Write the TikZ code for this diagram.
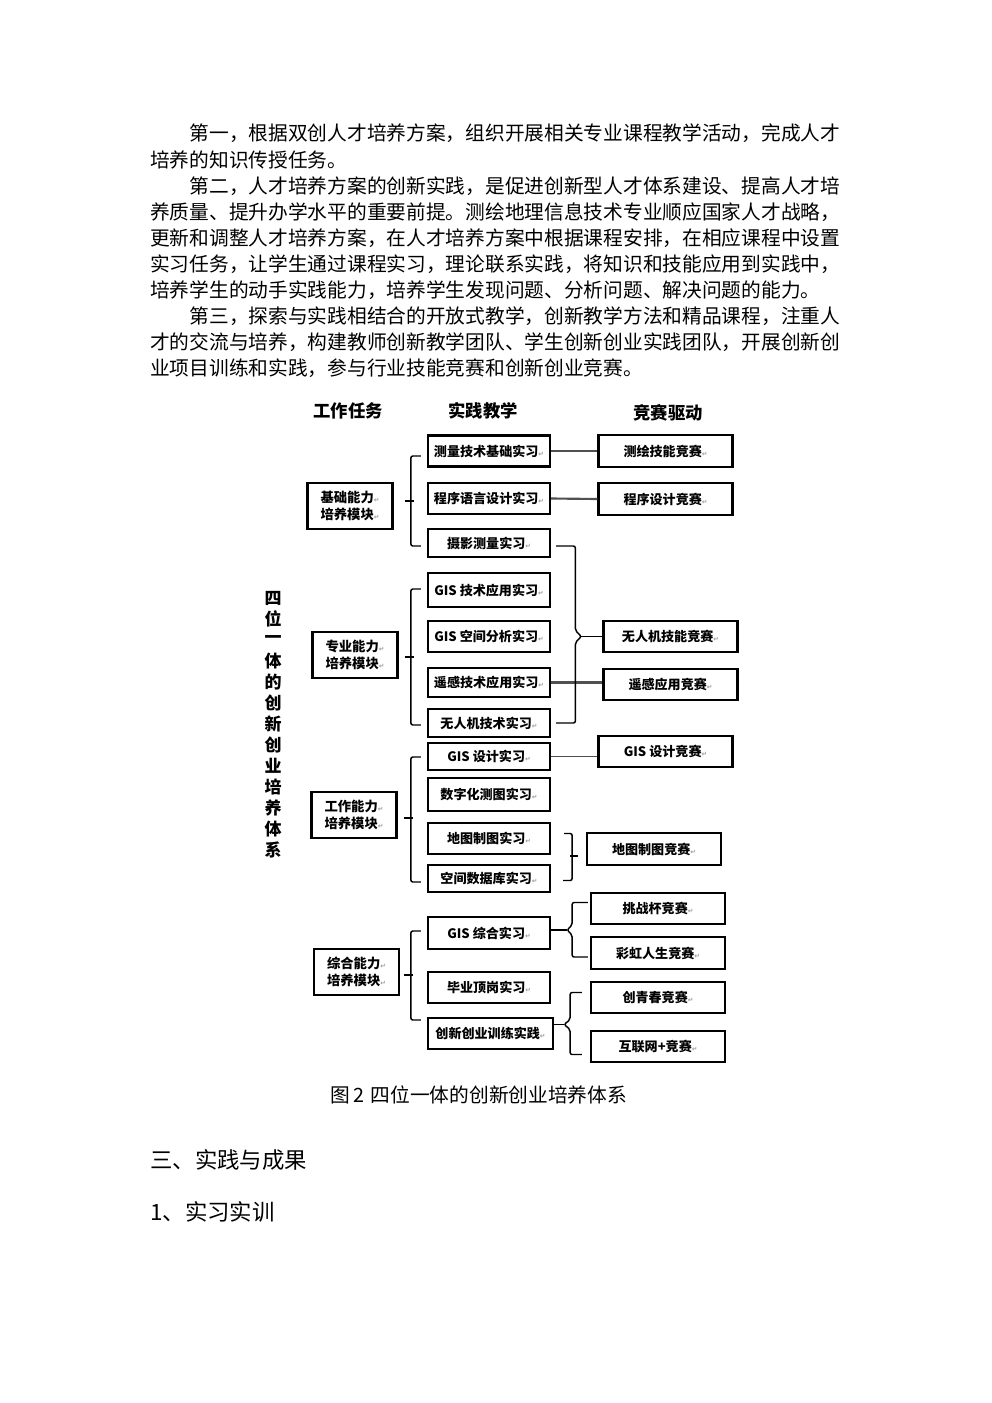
\documentclass[tikz,border=0pt]{standalone}
\usepackage{fontspec}
\setmainfont{Noto Sans CJK SC}
\newfontfamily\symfont{DejaVu Sans}
\usetikzlibrary{calc}
\definecolor{cline}{HTML}{505050}
\definecolor{cmark}{HTML}{9A9A9A}
\tikzset{
  box/.style={draw=black, line width=1.7pt, inner sep=0pt, align=center, font=\fontsize{9.8}{12.5}\selectfont\bfseries},
  link/.style={draw=cline, line width=1.6pt},
  brk/.style={draw=black, line width=1.1pt, rounded corners=1.5pt},
  body/.style={anchor=west, inner sep=0pt, font=\fontsize{14.786}{18}\selectfont},
}
\newcommand{\retmark}{{\symfont\fontsize{5}{5}\selectfont\textcolor{cmark}{↵}}}

\begin{document}
\begin{tikzpicture}[x=0.75pt, y=-0.75pt,
    prac/.style={box, minimum width=91.5pt, minimum height=23.25pt},
    race/.style={box, minimum width=100.5pt, minimum height=23.5pt},
    modu/.style={box, minimum width=63.75pt, minimum height=34.5pt, font=\fontsize{10}{12.8}\selectfont\bfseries},
    head/.style={font=\fontsize{13}{15}\selectfont\bfseries},
    vtitle/.style={font=\fontsize{12.75}{15}\selectfont\bfseries},
    sect/.style={body, font=\fontsize{16.8}{20}\selectfont},
  ]
  \useasboundingbox (0,0) rectangle (992,1403);

  % text above the figure
  \node[body] (l1)  at (150,133.5) {\hspace*{2em}第一，根据双创人才培养方案，组织开展相关专业课程教学活动，完成人才};
  \node[body] (l2)  at (150,159.6) {培养的知识传授任务。};
  \node[body] (l3)  at (150,185.7) {\hspace*{2em}第二，人才培养方案的创新实践，是促进创新型人才体系建设、提高人才培};
  \node[body] (l4)  at (150,211.8) {养质量、提升办学水平的重要前提。测绘地理信息技术专业顺应国家人才战略，};
  \node[body] (l5)  at (150,237.9) {更新和调整人才培养方案，在人才培养方案中根据课程安排，在相应课程中设置};
  \node[body] (l6)  at (150,264.0) {实习任务，让学生通过课程实习，理论联系实践，将知识和技能应用到实践中，};
  \node[body] (l7)  at (150,290.1) {培养学生的动手实践能力，培养学生发现问题、分析问题、解决问题的能力。};
  \node[body] (l8)  at (150,316.2) {\hspace*{2em}第三，探索与实践相结合的开放式教学，创新教学方法和精品课程，注重人};
  \node[body] (l9)  at (150,342.3) {才的交流与培养，构建教师创新教学团队、学生创新创业实践团队，开展创新创};
  \node[body] (l10) at (150,368.4) {业项目训练和实践，参与行业技能竞赛和创新创业竞赛。};

  % column heads
  \node[head] (htask) at (348,411) {工作任务};
  \node[head] (hprac) at (483,411) {实践教学};
  \node[head] (hrace) at (668,413) {竞赛驱动};

  % vertical title
  \foreach \ch [count=\i from 0] in {四,位,一,体,的,创,新,创,业,培,养,体,系}
    \node[vtitle] (v\i) at (273,598+21*\i) {\ch};

  % modules
  \node[modu] (mbasic) at (350,506)   {基础能力\retmark\\培养模块\retmark};
  \node[modu] (mmajor) at (355,655)   {专业能力\retmark\\培养模块\retmark};
  \node[modu] (mwork)  at (354,815)   {工作能力\retmark\\培养模块\retmark};
  \node[modu] (mall)   at (356.5,972) {综合能力\retmark\\培养模块\retmark};

  % practice teaching
  \node[prac] (survey) at (489,451)   {测量技术基础实习\retmark};
  \node[prac] (prog)   at (489,498.5) {程序语言设计实习\retmark};
  \node[prac, minimum height=21pt] (photo) at (489,543) {摄影测量实习\retmark};
  \node[prac, minimum height=25.5pt] (gisapp) at (489,590) {GIS 技术应用实习\retmark};
  \node[prac] (gisspa) at (489,636.5) {GIS 空间分析实习\retmark};
  \node[prac, minimum height=22pt] (rsapp) at (489,682.5) {遥感技术应用实习\retmark};
  \node[prac, minimum height=21pt] (uavp) at (489,723) {无人机技术实习\retmark};
  \node[prac, minimum height=20.5pt] (gisdes) at (489,756.5) {GIS 设计实习\retmark};
  \node[prac, minimum height=24.75pt] (digmap) at (489,794.5) {数字化测图实习\retmark};
  \node[prac] (carto)  at (489,838.5) {地图制图实习\retmark};
  \node[prac, minimum height=20.5pt] (sdb) at (489,878.5) {空间数据库实习\retmark};
  \node[prac, minimum height=24pt] (giscom) at (489,933) {GIS 综合实习\retmark};
  \node[prac] (intern) at (489,987.5) {毕业顶岗实习\retmark};
  \node[prac, minimum width=93.75pt] (innov) at (490.5,1033.5) {创新创业训练实践\retmark};

  % competitions
  \node[race] (csurvey) at (665.5,451)  {测绘技能竞赛\retmark};
  \node[race] (cprog)   at (665.5,499)  {程序设计竞赛\retmark};
  \node[race] (cuav)    at (670.5,636.5) {无人机技能竞赛\retmark};
  \node[race] (crs)     at (670.5,684.5) {遥感应用竞赛\retmark};
  \node[race] (cgis)    at (665.5,751.5) {GIS 设计竞赛\retmark};
  \node[race] (ccarto)  at (654,849)    {地图制图竞赛\retmark};
  \node[race] (ccup)    at (658,908.5)  {挑战杯竞赛\retmark};
  \node[race] (crain)   at (658,953)    {彩虹人生竞赛\retmark};
  \node[race] (cyouth)  at (658,997.5)  {创青春竞赛\retmark};
  \node[race] (cnet)    at (658,1046.5) {互联网+竞赛\retmark};

  % brackets from modules
  \draw[brk] ($(survey.west)+(-6,5)$) -- ++(-10,0) |- ($(photo.west)+(-6,3)$);
  \draw[brk] ($(mbasic.east)+(11,-5)$) -- ++(9,0);
  \draw[brk] ($(gisapp.west)+(-6,-1)$) -- ++(-10,0) |- ($(uavp.west)+(-6,2)$);
  \draw[brk] ($(mmajor.east)+(6,2)$) -- ++(9,0);
  \draw[brk] ($(gisdes.west)+(-6,0.5)$) -- ++(-10,0) |- ($(sdb.west)+(-6,3.5)$);
  \draw[brk] ($(mwork.east)+(6,3)$) -- ++(9,0);
  \draw[brk] ($(giscom.west)+(-6,-2)$) -- ++(-10,0) |- ($(innov.west)+(-6,-13.5)$);
  \draw[brk] ($(mall.east)+(4,3)$) -- ++(9,0);

  % straight links
  \draw[link] (survey.east) -- (csurvey.west);
  \draw[link] (prog.east) -- (cprog.west);
  \draw[link] (rsapp.east) -- (rsapp.east -| crs.west);
  \draw[link, line width=1.1pt] (gisdes.east) -- (gisdes.east -| cgis.west);

  % braces to competitions
  \draw[brk] ($(photo.east)+(5,3)$) -| ($(cuav.west)+(-27,-6)$) -- ($(cuav.west)+(-21,0)$)
    -- ($(cuav.west)+(-27,6)$) |- ($(uavp.east)+(5,0)$);
  \draw[brk] ($(cuav.west)+(-21,0)$) -- (cuav.west);
  \draw[brk] ($(carto.east)+(13,-5)$) -- ++(8,0) |- ($(sdb.east)+(12,2)$);
  \draw[brk] ($(ccarto.west)+(-16,7)$) -- ++(8,0);
  \draw[brk] ($(ccup.west)+(-2,-6)$) -| ($(giscom.east)+(21,-8)$) -- ($(giscom.east)+(16,-3)$)
    -- ($(giscom.east)+(21,2)$) |- ($(crain.west)+(-2,4)$);
  \draw[brk] ($(giscom.east)+(0,-3)$) -- ++(16,0);
  \draw[brk] ($(cyouth.west)+(-8,-5)$) -| ($(innov.east)+(16,-14)$) -- ($(innov.east)+(10,-9)$)
    -- ($(innov.east)+(16,-4)$) |- ($(cnet.west)+(-8,8)$);
  \draw[brk] ($(innov.east)+(0,-9)$) -- ++(10,0);

  % caption and headings
  \node[body] (cap) at (330,1095) {图\,2\,\,四位一体的创新创业培养体系};
  \node[sect] (sec) at (150,1160) {三、实践与成果};
  \node[sect] (sub) at (150,1212) {1、实习实训};
\end{tikzpicture}
\end{document}
